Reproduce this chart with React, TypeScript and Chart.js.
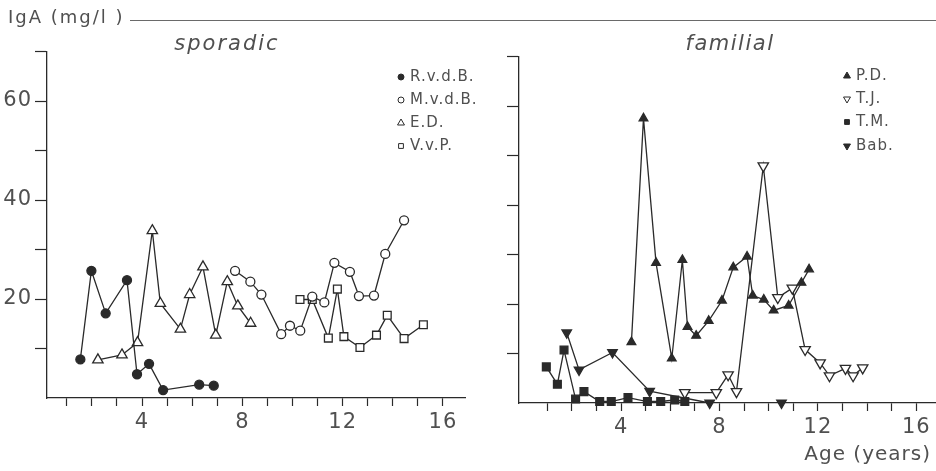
import { useEffect, useRef } from 'react';
import { Chart, registerables } from 'chart.js';

Chart.register(...registerables);

// ---------- axis ticks ----------
const xTickValues = [1, 2, 3, 4, 5, 6, 7, 8, 9, 10, 11, 12, 13, 14, 15, 16];
const xTickLabels = [4, 8, 12, 16];
const yTickValues = [10, 20, 30, 40, 50, 60, 70];
const yTickLabelsLeft = [20, 40, 60];

// ---------- sporadic ----------
const rvdbAge = [1.54, 1.98, 2.55, 3.4, 3.8, 4.28, 4.84, 6.28, 6.86];
const rvdbIgA = [7.8, 25.7, 17.1, 23.8, 4.8, 6.9, 1.6, 2.7, 2.5];

const mvdbAge = [7.71, 8.32, 8.76, 9.55, 9.9, 10.31, 10.79, 11.27, 11.67, 12.29, 12.65, 13.25, 13.7, 14.45];
const mvdbIgA = [25.7, 23.5, 20.9, 12.9, 14.6, 13.6, 20.5, 19.3, 27.3, 25.5, 20.6, 20.7, 29.1, 35.9];

const edAge = [2.24, 3.2, 3.82, 4.41, 4.73, 5.53, 5.9, 6.43, 6.94, 7.4, 7.82, 8.33];
const edIgA = [7.7, 8.7, 11.2, 33.8, 19.1, 13.9, 20.9, 26.5, 12.7, 23.5, 18.6, 15.1];

const vvpAge = [10.3, 10.79, 11.43, 11.79, 12.05, 12.69, 13.35, 13.78, 14.45, 15.22];
const vvpIgA = [19.9, 19.9, 12.1, 22.0, 12.4, 10.2, 12.7, 16.7, 12.0, 14.8];

// ---------- familial ----------
const pdAge = [4.42, 4.91, 5.42, 6.06, 6.49, 6.7, 7.05, 7.56, 8.1, 8.56, 9.12, 9.35, 9.8, 10.2, 10.81, 11.33, 11.64];
const pdIgA = [12.3, 57.5, 28.3, 9.0, 28.9, 15.4, 13.6, 16.6, 20.7, 27.4, 29.6, 21.7, 20.9, 18.7, 19.7, 24.3, 27.0];

const tjAge = [6.59, 7.87, 8.35, 8.69, 9.78, 10.37, 10.96, 11.48, 12.09, 12.47, 13.12, 13.43, 13.82];
const tjIgA = [2.1, 2.1, 5.7, 2.3, 47.9, 21.3, 23.2, 10.8, 8.1, 5.5, 7.0, 5.5, 7.1];

const tmAge = [0.96, 1.41, 1.68, 2.15, 2.49, 3.13, 3.6, 4.28, 5.07, 5.61, 6.18, 6.59];
const tmIgA = [7.3, 3.8, 10.7, 0.8, 2.3, 0.3, 0.3, 1.1, 0.3, 0.3, 0.6, 0.3];

const babAge = [1.79, 2.29, 3.65, 5.16, 7.6, 9.0, 10.52];
const babIgA = [14.2, 6.7, 10.2, 2.4, 0, null, 0];

// ---------- styles ----------
const INK = '#2a2a2a';
const TEXT = '#505050';
const FONT = "'DejaVu Sans', sans-serif";

type Series = {
  label: string;
  age: number[];
  iga: (number | null)[];
  style: 'circle' | 'triangle' | 'rect';
  rotation: number;
  filled: boolean;
  radius: number;
};

const sporadic: Series[] = [
  { label: 'R.v.d.B.', age: rvdbAge, iga: rvdbIgA, style: 'circle', rotation: 0, filled: true, radius: 4.5 },
  { label: 'M.v.d.B.', age: mvdbAge, iga: mvdbIgA, style: 'circle', rotation: 0, filled: false, radius: 4.5 },
  { label: 'E.D.', age: edAge, iga: edIgA, style: 'triangle', rotation: 0, filled: false, radius: 6 },
  { label: 'V.v.P.', age: vvpAge, iga: vvpIgA, style: 'rect', rotation: 0, filled: false, radius: 5.5 },
];

const familial: Series[] = [
  { label: 'P.D.', age: pdAge, iga: pdIgA, style: 'triangle', rotation: 0, filled: true, radius: 5 },
  { label: 'T.J.', age: tjAge, iga: tjIgA, style: 'triangle', rotation: 180, filled: false, radius: 6 },
  { label: 'T.M.', age: tmAge, iga: tmIgA, style: 'rect', rotation: 0, filled: true, radius: 5.5 },
  { label: 'Bab.', age: babAge, iga: babIgA, style: 'triangle', rotation: 180, filled: true, radius: 5.5 },
];

function drawMarker(ctx: CanvasRenderingContext2D, style: string, rot: number, x: number, y: number, r: number, filled: boolean) {
  ctx.beginPath();
  if (style === 'circle') {
    ctx.arc(x, y, r, 0, Math.PI * 2);
  } else if (style === 'rect') {
    ctx.rect(x - r * 0.8, y - r * 0.8, r * 1.6, r * 1.6);
  } else {
    const s = rot === 180 ? -1 : 1;
    ctx.moveTo(x, y - s * r);
    ctx.lineTo(x + r * 0.87, y + s * r * 0.5);
    ctx.lineTo(x - r * 0.87, y + s * r * 0.5);
    ctx.closePath();
  }
  ctx.fillStyle = filled ? INK : '#ffffff';
  ctx.fill();
  ctx.strokeStyle = INK;
  ctx.lineWidth = 1;
  ctx.stroke();
}

type PanelCfg = {
  canvasLeft: number;
  canvasWidth: number;
  xMin: number;
  xMax: number;
  yAxisWidth: number;
  xAxisHeight: number;
  padTop: number;
  padRight: number;
  yLabels: number[];
  header: string;
  headerX: number;
  headerSpacing: string;
  legendX: number;
  legendYs: number[];
  lineFrom: number;
  lineTo: number;
  showYTitle: boolean;
  showXTitle: boolean;
  series: Series[];
};

function makeTextPlugin(cfg: PanelCfg) {
  return {
    id: 'panelText',
    beforeDraw(chart: any) {
      chart.ctx.letterSpacing = '1px';
    },
    afterDraw(chart: any) {
      const ctx: CanvasRenderingContext2D = chart.ctx;
      ctx.save();
      ctx.fillStyle = TEXT;
      ctx.textBaseline = 'middle';
      // top rule
      ctx.strokeStyle = '#6a6a6a';
      ctx.lineWidth = 1;
      ctx.beginPath();
      ctx.moveTo(cfg.lineFrom, 20.5);
      ctx.lineTo(cfg.lineTo, 20.5);
      ctx.stroke();
      if (cfg.showYTitle) {
        (ctx as any).letterSpacing = '2px';
        ctx.font = `18px ${FONT}`;
        ctx.textAlign = 'left';
        ctx.fillText('IgA (mg/l )', 8, 18);
      }
      // header
      (ctx as any).letterSpacing = cfg.headerSpacing;
      ctx.font = `italic 21px ${FONT}`;
      ctx.textAlign = 'center';
      ctx.fillText(cfg.header, cfg.headerX, 45);
      // legend
      (ctx as any).letterSpacing = '1px';
      ctx.font = `15px ${FONT}`;
      ctx.textAlign = 'left';
      cfg.series.forEach((s, i) => {
        const y = cfg.legendYs[i];
        const r = s.style === 'circle' ? 3 : s.style === 'rect' ? 3 : 4;
        drawMarker(ctx, s.style, s.rotation, cfg.legendX, y, r, s.filled);
        ctx.fillStyle = TEXT;
        ctx.fillText(s.label, cfg.legendX + 9, y);
      });
      if (cfg.showXTitle) {
        ctx.font = `20px ${FONT}`;
        ctx.textAlign = 'right';
        ctx.fillText('Age (years)', cfg.canvasWidth - 5, 455);
      }
      ctx.restore();
    },
  };
}

function Panel({ cfg }: { cfg: PanelCfg }) {
  const ref = useRef<HTMLCanvasElement | null>(null);
  useEffect(() => {
    if (!ref.current) return;
    const datasets = cfg.series.map((s) => ({
      label: s.label,
      data: s.age.map((a, i) => ({ x: a, y: s.iga[i] })),
      borderColor: INK,
      borderWidth: 1.3,
      pointStyle: s.style,
      pointRotation: s.rotation,
      pointRadius: s.radius,
      pointBorderWidth: 1.3,
      pointBackgroundColor: s.filled ? INK : '#ffffff',
      pointBorderColor: INK,
      spanGaps: false,
      tension: 0,
      clip: false as any,
      fill: false,
    }));
    const chart = new Chart(ref.current, {
      type: 'line',
      data: { datasets: datasets as any },
      options: {
        animation: false,
        responsive: false,
        events: [],
        layout: {
          autoPadding: false,
          padding: { top: cfg.padTop, right: cfg.padRight, left: 0, bottom: 0 },
        },
        plugins: { legend: { display: false }, tooltip: { enabled: false }, title: { display: false } },
        scales: {
          x: {
            type: 'linear',
            min: cfg.xMin,
            max: cfg.xMax,
            afterBuildTicks: (s: any) => {
              s.ticks = xTickValues.map((v) => ({ value: v }));
            },
            afterFit: (s: any) => {
              s.height = cfg.xAxisHeight;
            },
            grid: { drawOnChartArea: false, drawTicks: true, tickLength: 8, tickColor: INK, tickWidth: 1.2 },
            border: { display: true, color: INK, width: 1.3 },
            ticks: {
              autoSkip: false,
              maxRotation: 0,
              padding: 4,
              color: TEXT,
              font: { family: FONT, size: 21 },
              callback: (v: any) => (xTickLabels.includes(Number(v)) ? String(v) : ''),
            },
          },
          y: {
            type: 'linear',
            min: 0,
            max: 70,
            afterBuildTicks: (s: any) => {
              s.ticks = yTickValues.map((v) => ({ value: v }));
            },
            afterFit: (s: any) => {
              s.width = cfg.yAxisWidth;
            },
            grid: { drawOnChartArea: false, drawTicks: true, tickLength: 12, tickColor: INK, tickWidth: 1.2 },
            border: { display: true, color: INK, width: 1.3 },
            ticks: {
              padding: 3,
              color: TEXT,
              font: { family: FONT, size: 21 },
              callback: (v: any) => (cfg.yLabels.includes(Number(v)) ? String(v) : ''),
            },
          },
        },
      },
      plugins: [makeTextPlugin(cfg)],
    });
    return () => chart.destroy();
  }, [cfg]);
  return (
    <canvas
      ref={ref}
      width={cfg.canvasWidth}
      height={471}
      style={{ position: 'absolute', left: cfg.canvasLeft, top: 0, width: cfg.canvasWidth, height: 471 }}
    />
  );
}

const leftCfg: PanelCfg = {
  canvasLeft: 0,
  canvasWidth: 500,
  xMin: 0.21,
  xMax: 16.88,
  yAxisWidth: 47,
  xAxisHeight: 73,
  padTop: 51.5,
  padRight: 35,
  yLabels: yTickLabelsLeft,
  header: 'sporadic',
  headerX: 227,
  headerSpacing: '2px',
  legendX: 401,
  legendYs: [77, 100, 123, 146],
  lineFrom: 130,
  lineTo: 500,
  showYTitle: true,
  showXTitle: false,
  series: sporadic,
};

const rightCfg: PanelCfg = {
  canvasLeft: 470,
  canvasWidth: 466,
  xMin: -0.15,
  xMax: 16.8,
  yAxisWidth: 49,
  xAxisHeight: 68,
  padTop: 56.5,
  padRight: 0,
  yLabels: [],
  header: 'familial',
  headerX: 260,
  headerSpacing: '1.5px',
  legendX: 377,
  legendYs: [76, 99, 122, 146],
  lineFrom: 0,
  lineTo: 466,
  showYTitle: false,
  showXTitle: true,
  series: familial,
};

export default function App() {
  return (
    <div style={{ position: 'absolute', left: 0, top: 0, width: 936, height: 471, background: '#ffffff' }}>
      <Panel cfg={leftCfg} />
      <Panel cfg={rightCfg} />
    </div>
  );
}
